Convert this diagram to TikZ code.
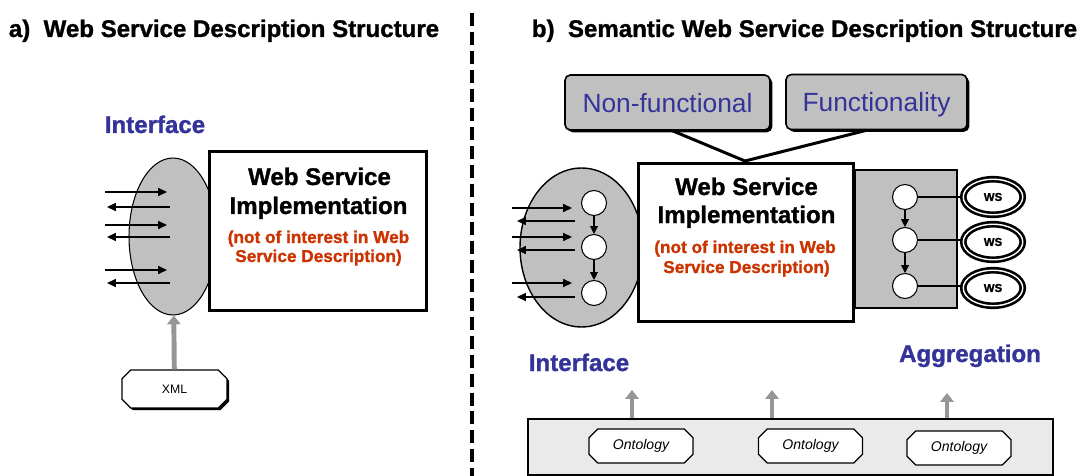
\documentclass[tikz,border=0pt]{standalone}
\usepackage{fontspec}
\setmainfont{Liberation Sans}
\newfontfamily\heavy{Liberation Sans}[BoldFeatures={FakeBold=1.2}]
\usepackage{tikz}
\usetikzlibrary{shapes,shapes.misc,arrows.meta,positioning,shadows}
\definecolor{ifblue}{RGB}{51,51,153}
\definecolor{nired}{RGB}{204,51,0}
\definecolor{ifgray}{RGB}{192,192,192}
\definecolor{ongray}{RGB}{234,234,234}
\definecolor{upgray}{RGB}{150,150,150}
\tikzset{hd/.style={inner sep=0pt,anchor=base,font=\fontsize{13.7}{15}\heavy\bfseries},blu/.style={hd,text=ifblue},red/.style={inner sep=0pt,anchor=base,text=nired,font=\fontsize{9.8}{11}\heavy\bfseries}}
\tikzset{ifc/.style={ellipse,draw,line width=.6pt,fill=ifgray,inner sep=0pt},op/.style={circle,draw,fill=white,line width=.6pt,minimum size=.5cm,inner sep=0pt},impl/.style={rectangle,draw,line width=1.7pt,fill=white,inner sep=0pt}}
\tikzset{ws/.style={ellipse,draw,line width=1.5pt,double=white,double distance=.8pt,fill=white,minimum width=1.19cm,minimum height=.71cm,inner sep=0pt,font=\fontsize{6.5}{7}\heavy\bfseries}}
\tikzset{fbox/.style={rectangle,rounded corners=3pt,draw,line width=.9pt,fill=ifgray,text=ifblue,text depth=0pt,inner sep=0pt,font=\fontsize{15}{17}\selectfont,general shadow={fill=black,shadow xshift=1.3pt,shadow yshift=-1.3pt}}}
\tikzset{ont/.style={chamfered rectangle,chamfered rectangle xsep=2.5pt,chamfered rectangle ysep=2.5pt,draw,line width=.7pt,fill=white,minimum width=2.08cm,minimum height=.68cm,inner sep=0pt,font=\fontsize{8}{9}\selectfont\itshape},xmlb/.style={ont,minimum width=2.1cm,minimum height=.76cm,font=\fontsize{7}{8}\selectfont,general shadow={fill=black,shadow xshift=1.2pt,shadow yshift=-1.2pt}}}
\tikzset{ar/.style={line width=.8pt,-{Triangle[length=5pt,width=4.5pt]}},dn/.style={line width=.6pt,-{Triangle[length=4.5pt,width=4.5pt]}},up/.style={draw=upgray,line width=2.8pt,-{Triangle[length=5pt,width=7.5pt]}},call/.style={line width=1.7pt,line join=miter},sep/.style={line width=2pt,dash pattern=on 7.4pt off 3.4pt}}
\tikzset{agg/.style={rectangle,draw,line width=.6pt,fill=ifgray,inner sep=0pt},bar/.style={rectangle,draw,line width=1.1pt,fill=ongray,inner sep=0pt}}
\begin{document}
\begin{tikzpicture}[x=.02cm,y=-.02cm]
  \useasboundingbox (0,0) rectangle (1081,476);
  \node[hd] (ta) at (224,37) {a)~~Web Service Description Structure};
  \node[hd] (tb) at (804.5,37) {b)~~Semantic Web Service Description Structure};
  \draw[sep] (472,13) -- (472,476);
  % a)
  \node[blu] (li) at (155,133) {Interface};
  \node[ifc,minimum width=1.76cm,minimum height=3.14cm] (le) at (173,236.5) {};
  \node[impl,minimum width=4.34cm,minimum height=3.18cm] (lw) at (318,231) {};
  \node[hd] (lw1) at (319.5,185) {Web Service};
  \node[hd] (lw2) at (318.5,214) {Implementation};
  \node[red] (lr1) at (318.5,243) {(not of interest in Web};
  \node[red] (lr2) at (318.5,262) {Service Description)};
  \foreach \y [count=\i] in {192,225,270} {
    \coordinate (lin\i) at (105,\y);
    \coordinate (lit\i) at (167,\y);
    \draw[ar] (lin\i) -- (lit\i);
  }
  \foreach \y [count=\i] in {207,237,283} {
    \coordinate (lon\i) at (170,\y);
    \coordinate (lot\i) at (107,\y);
    \draw[ar] (lon\i) -- (lot\i);
  }
  \node[xmlb] (xml) at (174.5,389) {XML};
  \draw[up] (xml) -- (le);
  % b)
  \node[fbox,minimum width=4.1cm,minimum height=1.1cm] (nf) at (667.5,102.5) {Non-functional};
  \node[fbox,minimum width=3.62cm,minimum height=1.1cm] (fn) at (876.5,102) {Functionality};
  \node[ifc,line width=.8pt,minimum width=2.46cm,minimum height=3.18cm] (re) at (581.5,247.5) {};
  \node[impl,minimum width=4.3cm,minimum height=3.16cm] (rw) at (746,242.5) {};
  \coordinate (tip) at (745,161);
  \draw[call] ([xshift=.1cm]nf.south) -- (tip) -- ([xshift=-.2cm]fn.south);
  \node[agg,minimum width=2.04cm,minimum height=2.76cm] (ag) at (906,239) {};
  \node[hd] (rw1) at (746.5,195) {Web Service};
  \node[hd] (rw2) at (746.5,223) {Implementation};
  \node[red] (rr1) at (745,253) {(not of interest in Web};
  \node[red] (rr2) at (746.5,273) {Service Description)};
  \node[op] (i1) at (594,203) {};
  \node[op] (i2) at (594,247) {};
  \node[op] (i3) at (594,293) {};
  \foreach \y [count=\i] in {208,237,283} {
    \coordinate (rin\i) at (512,\y);
    \coordinate (rit\i) at (572,\y);
    \draw[ar] (rin\i) -- (rit\i);
  }
  \foreach \y [count=\i] in {221,250,297} {
    \coordinate (ron\i) at (575,\y);
    \coordinate (rot\i) at (517,\y);
    \draw[ar] (ron\i) -- (rot\i);
  }
  \node[op] (a1) at (905,197) {};
  \node[op] (a2) at (905,240) {};
  \node[op] (a3) at (905,286) {};
  \node[ws] (w1) at (993,197) {WS};
  \node[ws] (w2) at (993,242) {WS};
  \node[ws] (w3) at (993,288) {WS};
  \draw (i1) edge[dn] (i2) (i2) edge[dn] (i3)
    (a1) edge[dn] (a2) (a2) edge[dn] (a3);
  \draw[line width=.6pt] (a1.east) -- (w1.west |- a1.east)
    (a2.east) -- (w2.west |- a2.east)
    (a3.east) -- (w3.west |- a3.east);
  \node[blu] (ri) at (579,371) {Interface};
  \node[blu] (ra) at (970,362) {Aggregation};
  \node[bar,minimum width=10.5cm,minimum height=1.12cm] (ob) at (790.5,447) {};
  \node[ont] (o1) at (641,446) {Ontology};
  \node[ont] (o2) at (810.5,446) {Ontology};
  \node[ont] (o3) at (959,448) {Ontology};
  \coordinate (u1) at (632,390);
  \coordinate (u2) at (772,390);
  \coordinate (u3) at (947,393);
  \draw[up] (u1 |- ob.north) -- (u1);
  \draw[up] (u2 |- ob.north) -- (u2);
  \draw[up] (u3 |- ob.north) -- (u3);
\end{tikzpicture}
\end{document}
